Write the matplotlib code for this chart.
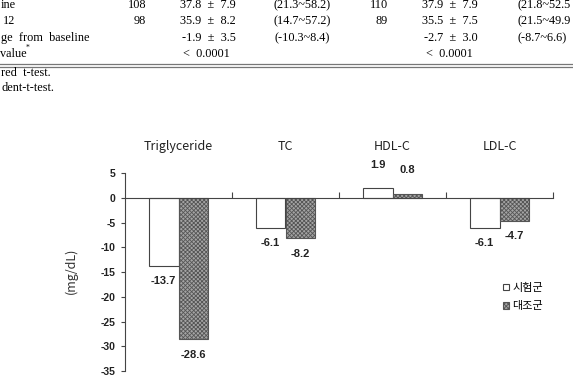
#!/usr/bin/env python3

"""
bar chart of change from baseline (mg/dL) per lipid, two groups,
with the bottom of a table printed above it.
output: out.png
"""

import matplotlib
matplotlib.use("Agg")
import matplotlib.pyplot as plt
from matplotlib.lines import Line2D

W, H = 573, 385

# table rows (only the part visible on the cropped page)
ROW_LABELS = ["ine", "12", "ge  from  baseline", "value"]
N_A = ["108", "98", "", ""]
MEAN_A = ["37.8  \u00b1  7.9", "35.9  \u00b1  8.2", "-1.9  \u00b1  3.5", "<  0.0001"]
RANGE_A = ["(21.3~58.2)", "(14.7~57.2)", "(-10.3~8.4)", ""]
N_B = ["110", "89", "", ""]
MEAN_B = ["37.9  \u00b1  7.9", "35.5  \u00b1  7.5", "-2.7  \u00b1  3.0", "<  0.0001"]
RANGE_B = ["(21.8~52.5", "(21.5~49.9", "(-8.7~6.6)", ""]
FOOTNOTES = ["red  t-test.", "dent-t-test."]

# chart data
CATEGORIES = ["Triglyceride", "TC", "HDL-C", "LDL-C"]
GROUP_NAMES = ["\uc2dc\ud5d8\uad70", "\ub300\uc870\uad70"]
TEST_VALUES = [-13.7, -6.1, 1.9, -6.1]
CONTROL_VALUES = [-28.6, -8.2, 0.8, -4.7]
Y_TICKS = [5, 0, -5, -10, -15, -20, -25, -30, -35]

plt.rcParams["axes.unicode_minus"] = False
plt.rcParams["hatch.linewidth"] = 0.6

fig = plt.figure(figsize=(W / 100, H / 100), dpi=100)


def fx(x):
    return x / W


def fy(y):
    return 1 - y / H


# --- table fragment ---
SERIF = "Liberation Serif"
TFS = 8.8
row_y = [5, 21, 38, 54]
label_left = [1, 3, 1, 0]
for i, y in enumerate(row_y):
    fig.text(fx(label_left[i]), fy(y), ROW_LABELS[i], ha="left", va="center",
             family=SERIF, fontsize=TFS)
    fig.text(fx(146), fy(y), N_A[i], ha="right", va="center", family=SERIF, fontsize=TFS)
    fig.text(fx(388), fy(y), N_B[i], ha="right", va="center", family=SERIF, fontsize=TFS)
    if MEAN_A[i].startswith("<"):
        fig.text(fx(206), fy(y), MEAN_A[i], ha="center", va="center", family=SERIF, fontsize=TFS)
        fig.text(fx(449), fy(y), MEAN_B[i], ha="center", va="center", family=SERIF, fontsize=TFS)
    else:
        fig.text(fx(236), fy(y), MEAN_A[i], ha="right", va="center", family=SERIF, fontsize=TFS)
        fig.text(fx(478), fy(y), MEAN_B[i], ha="right", va="center", family=SERIF, fontsize=TFS)
    fig.text(fx(302), fy(y), RANGE_A[i], ha="center", va="center", family=SERIF, fontsize=TFS)
    fig.text(fx(517), fy(y), RANGE_B[i], ha="left", va="center", family=SERIF, fontsize=TFS)
fig.text(fx(25.5), fy(47.5), "*", ha="left", va="center", family=SERIF, fontsize=5.5)

for yy in (64, 66.5):
    fig.add_artist(Line2D([0, 1], [fy(yy), fy(yy)], color="#777777", lw=0.9,
                          transform=fig.transFigure))

fig.text(fx(1), fy(73), FOOTNOTES[0], ha="left", va="center", family=SERIF, fontsize=TFS)
fig.text(fx(1), fy(88), FOOTNOTES[1], ha="left", va="center", family=SERIF, fontsize=TFS)

# --- bar chart ---
ax = fig.add_axes([fx(125), fy(371), fx(553 - 125), (371 - 173) / H])

x = [i + 0.5 for i in range(len(CATEGORIES))]
bw = 0.28
b1 = ax.bar([v - bw / 2 for v in x], TEST_VALUES, bw, color="white",
            edgecolor="#444444", linewidth=0.8, label=GROUP_NAMES[0])
b2 = ax.bar([v + bw / 2 for v in x], CONTROL_VALUES, bw, color="#a4a4a4",
            edgecolor="#555555", linewidth=0.8, hatch="xxxxxxxx", label=GROUP_NAMES[1])

for bars, vals in ((b1, TEST_VALUES), (b2, CONTROL_VALUES)):
    for rect, v in zip(bars, vals):
        cx = rect.get_x() + rect.get_width() / 2
        off = 17 if v > 0 else -11
        ax.annotate(f"{v:.1f}", (cx, v), xytext=(0, off), textcoords="offset points",
                    ha="center", va="center", fontsize=8, fontweight="bold",
                    family="Liberation Sans", color="#222222")

for xi, name in zip(x, CATEGORIES):
    ax.text(xi, 1.136, name, transform=ax.get_xaxis_transform(), ha="center",
            va="center", fontsize=9, family="Noto Sans CJK KR", color="#222222")

ax.set_xlim(0, len(CATEGORIES))
ax.set_ylim(-35, 5)
ax.set_yticks(Y_TICKS)
ax.set_yticklabels([str(t) for t in Y_TICKS], fontsize=7.5, fontweight="bold",
                   family="Liberation Sans", color="#222222")
ax.tick_params(axis="y", direction="out", length=3, width=0.8, color="#444444", pad=4)

ax.spines["top"].set_visible(False)
ax.spines["right"].set_visible(False)
ax.spines["bottom"].set_position(("data", 0))
for s in ("left", "bottom"):
    ax.spines[s].set_color("#444444")
    ax.spines[s].set_linewidth(0.8)
ax.set_xticks(range(1, len(CATEGORIES) + 1))
ax.set_xticklabels([])
ax.tick_params(axis="x", direction="in", length=4, width=0.8, color="#444444")

ax.set_ylabel("(mg/dL)", fontsize=9, family="Noto Sans CJK KR", color="#333333")
ax.yaxis.set_label_coords(-0.11, 0.505)

fig.legend(handles=[b1, b2], labels=GROUP_NAMES, loc="center left",
           bbox_to_anchor=(fx(497), fy(297)), frameon=False, borderpad=0,
           handlelength=0.55, handleheight=0.55, handletextpad=0.35,
           labelspacing=0.75, prop={"family": "Noto Sans CJK KR", "size": 8})

plt.savefig("out.png", dpi=100)
